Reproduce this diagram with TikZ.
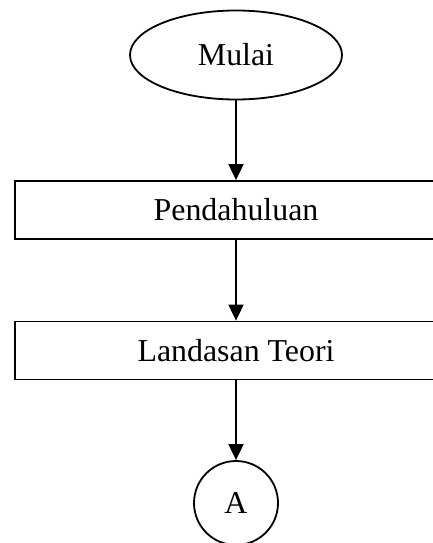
\documentclass[tikz,border=0pt]{standalone}
\usepackage{fontspec}
\setmainfont{Liberation Serif}
\usetikzlibrary{arrows.meta,shapes.geometric}
\begin{document}
\begin{tikzpicture}[x=1bp,y=-1bp,
  every node/.style={font=\fontsize{32}{34}\selectfont, line width=1.8bp, draw, inner sep=0pt},
  startbox/.style={ellipse, minimum width=212bp, minimum height=89bp},
  procbox/.style={rectangle, minimum width=442bp, minimum height=58bp},
  connbox/.style={circle, minimum size=84bp},
  flow/.style={line width=1.8bp, -{Triangle[width=15bp,length=16bp]}}]
\useasboundingbox (0,0) rectangle (432,543);
\node[startbox] (start) at (236,55) {Mulai};
\node[procbox] (p1) at (236,210) {Pendahuluan};
\node[procbox] (p2) at (236,350.5) {Landasan Teori};
\node[connbox] (a) at (236,503) {A};
\draw[flow] (start) -- (p1);
\draw[flow] (p1) -- (p2);
\draw[flow] (p2) -- (a);
\end{tikzpicture}
\end{document}
